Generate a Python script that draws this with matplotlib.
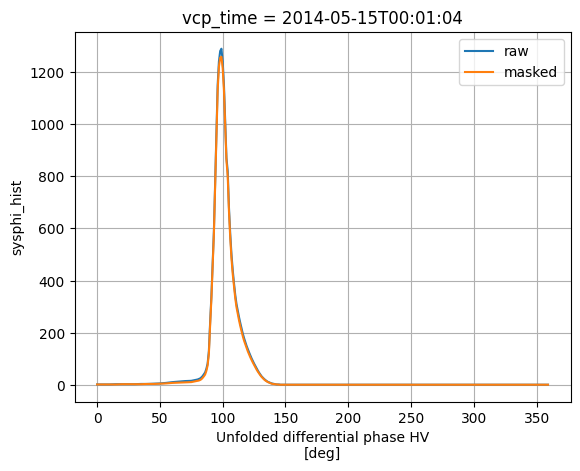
import numpy as np
import matplotlib
matplotlib.use("Agg")
import matplotlib.pyplot as plt

# phase bins (deg): coarse where the histogram is flat, 1 deg around the peak
phase_lo = np.arange(0, 76, 5)
phase_pk = np.arange(76, 150, 1)
phase_hi = np.arange(154, 360, 5)

raw_lo = [2, 2, 2, 3, 3, 3, 3, 4, 4, 5, 6, 8, 11, 13, 15, 16]
raw_pk = [17, 18, 19, 20, 21, 23, 25, 29, 34, 41,          # 76-85
          48, 62, 82, 130, 240, 340, 470, 590, 780, 960,    # 86-95
          1150, 1240, 1280, 1289, 1240, 1150, 1010, 870, 820, 680,  # 96-105
          580, 500, 440, 390, 345, 310, 285, 260, 238, 218,  # 106-115
          197, 180, 165, 150, 137, 125, 113, 102, 92, 82,    # 116-125
          73, 64, 55, 47, 40, 33, 28, 23, 19, 15,            # 126-135
          12, 10, 8, 6, 5, 4, 3, 2, 2, 2,                    # 136-145
          1, 1, 1, 1]                                        # 146-149
raw_hi = [1, 1, 1, 1, 1, 1, 1, 1, 1, 1, 1, 1, 1, 1,
          1, 1, 1, 1, 1, 1, 1, 1, 1, 1, 1, 1, 1, 1,
          1, 1, 1, 1, 1, 1, 1, 1, 1, 1, 1, 1, 1, 1]

masked_lo = [2, 2, 2, 2, 3, 3, 3, 3, 4, 4, 5, 6, 8, 9, 10, 11]
masked_pk = [12, 13, 14, 15, 16, 17, 19, 22, 27, 33,
             40, 54, 75, 120, 230, 330, 460, 580, 770, 950,
             1130, 1220, 1255, 1258, 1215, 1130, 995, 860, 800, 665,
             565, 485, 425, 378, 333, 298, 272, 248, 226, 206,
             187, 170, 156, 142, 129, 117, 106, 96, 86, 77,
             68, 59, 51, 44, 37, 31, 26, 21, 17, 14,
             11, 9, 7, 5, 4, 3, 3, 2, 2, 1,
             1, 1, 1, 1]
masked_hi = [1, 1, 1, 1, 1, 1, 1, 1, 1, 1, 1, 1, 1, 1,
             1, 1, 1, 1, 1, 1, 1, 1, 1, 1, 1, 1, 1, 1,
             1, 1, 1, 1, 1, 1, 1, 1, 1, 1, 1, 1, 1, 1]

phase = np.concatenate([phase_lo, phase_pk, phase_hi])
raw = np.array(raw_lo + raw_pk + raw_hi)
masked = np.array(masked_lo + masked_pk + masked_hi)

fig, ax = plt.subplots(figsize=(6.4, 4.8), dpi=100)
ax.plot(phase, raw, label="raw")
ax.plot(phase, masked, label="masked")
ax.set_title("vcp_time = 2014-05-15T00:01:04")
ax.set_xlabel("Unfolded differential phase HV\n[deg]")
ax.set_ylabel("sysphi_hist")
ax.grid(True)
ax.legend()
fig.savefig("out.png", dpi=100, bbox_inches="tight")
